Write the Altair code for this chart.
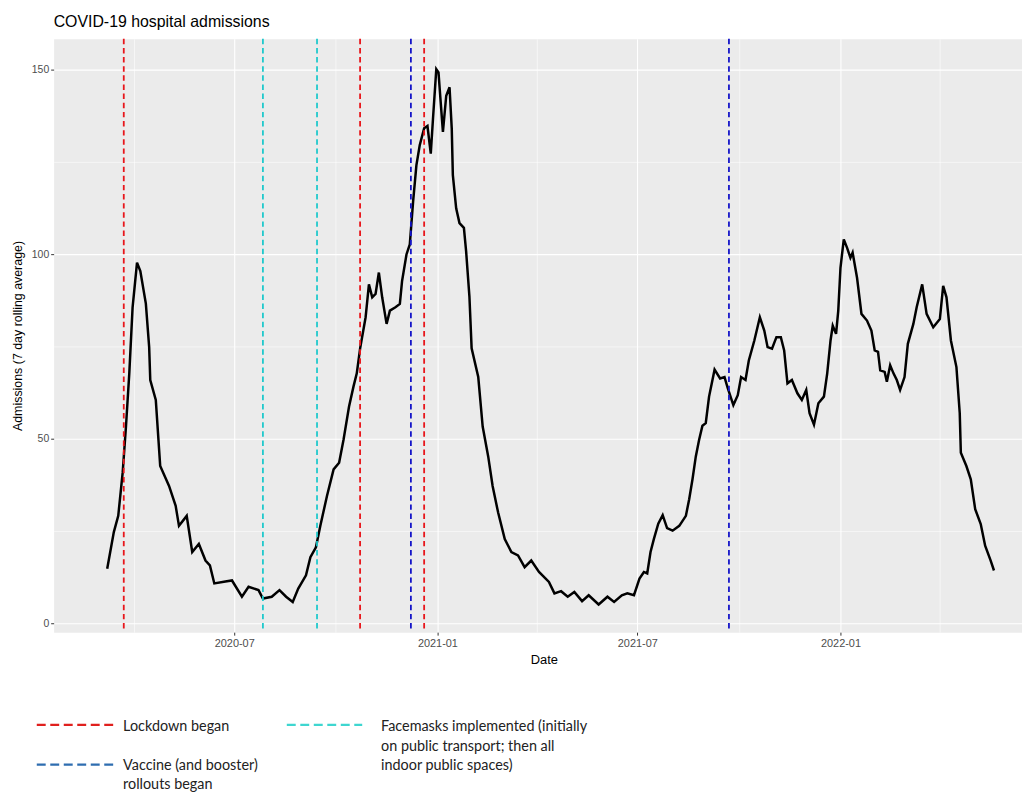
import altair as alt
import pandas as pd

# ---------------- data ----------------
dates = [
    "2020-03-08", "2020-03-14", "2020-03-18", "2020-03-22", "2020-03-25", "2020-03-28", "2020-03-31",
    "2020-04-04", "2020-04-07", "2020-04-12", "2020-04-15", "2020-04-16", "2020-04-21", "2020-04-25",
    "2020-05-03", "2020-05-09", "2020-05-12", "2020-05-19", "2020-05-24", "2020-05-30", "2020-06-05",
    "2020-06-09", "2020-06-13", "2020-06-23", "2020-06-29", "2020-07-08", "2020-07-14", "2020-07-23",
    "2020-07-27", "2020-08-04", "2020-08-11", "2020-08-17", "2020-08-23", "2020-08-28", "2020-09-04",
    "2020-09-08", "2020-09-13", "2020-09-17", "2020-09-23", "2020-09-29", "2020-10-04", "2020-10-08",
    "2020-10-13", "2020-10-17", "2020-10-20", "2020-10-23", "2020-10-28", "2020-10-31", "2020-11-03",
    "2020-11-06", "2020-11-09", "2020-11-12", "2020-11-16", "2020-11-19", "2020-11-24", "2020-11-28",
    "2020-11-30", "2020-12-04", "2020-12-07", "2020-12-10", "2020-12-13", "2020-12-16", "2020-12-20",
    "2020-12-23", "2020-12-26", "2020-12-28", "2020-12-31", "2021-01-02", "2021-01-04", "2021-01-06",
    "2021-01-09", "2021-01-12", "2021-01-14", "2021-01-15", "2021-01-18", "2021-01-21", "2021-01-25",
    "2021-01-27", "2021-01-30", "2021-02-01", "2021-02-07", "2021-02-11", "2021-02-16", "2021-02-20",
    "2021-02-25", "2021-03-03", "2021-03-09", "2021-03-15", "2021-03-21", "2021-03-27", "2021-04-03",
    "2021-04-12", "2021-04-17", "2021-04-23", "2021-04-29", "2021-05-05", "2021-05-12", "2021-05-18",
    "2021-05-27", "2021-06-04", "2021-06-10", "2021-06-17", "2021-06-22", "2021-06-28", "2021-07-03",
    "2021-07-07", "2021-07-10", "2021-07-13", "2021-07-16", "2021-07-20", "2021-07-24", "2021-07-28",
    "2021-08-02", "2021-08-08", "2021-08-14", "2021-08-17", "2021-08-20", "2021-08-23", "2021-08-26",
    "2021-08-29", "2021-09-01", "2021-09-04", "2021-09-09", "2021-09-14", "2021-09-18", "2021-09-21",
    "2021-09-26", "2021-09-30", "2021-10-03", "2021-10-07", "2021-10-10", "2021-10-15", "2021-10-20",
    "2021-10-24", "2021-10-27", "2021-10-31", "2021-11-04", "2021-11-08", "2021-11-11", "2021-11-14",
    "2021-11-18", "2021-11-23", "2021-11-27", "2021-12-01", "2021-12-04", "2021-12-08", "2021-12-12",
    "2021-12-17", "2021-12-20", "2021-12-23", "2021-12-25", "2021-12-28", "2021-12-30", "2022-01-01",
    "2022-01-04", "2022-01-07", "2022-01-10", "2022-01-12", "2022-01-16", "2022-01-20", "2022-01-25",
    "2022-01-29", "2022-02-01", "2022-02-04", "2022-02-06", "2022-02-10", "2022-02-12", "2022-02-15",
    "2022-02-18", "2022-02-21", "2022-02-24", "2022-02-28", "2022-03-03", "2022-03-08", "2022-03-11",
    "2022-03-16", "2022-03-20", "2022-03-26", "2022-04-01", "2022-04-04", "2022-04-07", "2022-04-11",
    "2022-04-16", "2022-04-19", "2022-04-20", "2022-04-25", "2022-04-29", "2022-05-03", "2022-05-08",
    "2022-05-12", "2022-05-17", "2022-05-20",
]
admissions = [
    14.8, 24.7, 29.1, 40.8, 53.3, 67.7, 85.6,
    97.7, 95.4, 86.6, 74.8, 65.9, 60.5, 42.6,
    37.2, 31.8, 26.4, 29.1, 19.3, 21.5, 17.0,
    15.7, 10.8, 11.3, 11.6, 7.2, 9.9, 9.0,
    6.7, 7.2, 9.0, 7.2, 5.8, 9.4, 13.0,
    17.9, 20.6, 26.4, 34.5, 41.7, 43.5, 49.7,
    58.7, 64.1, 67.7, 74.4, 82.9, 91.8, 88.3,
    89.2, 95.0, 88.3, 81.1, 84.7, 85.6, 86.5,
    92.7, 99.9, 102.6, 114.2, 124.1, 129.5, 134.1,
    134.7, 127.2, 136.6, 150.1, 149.2, 141.1, 133.1,
    142.9, 145.2, 134.0, 121.4, 112.4, 108.4, 107.1,
    100.8, 88.5, 74.5, 66.7, 53.3, 45.2, 37.2,
    30.0, 22.8, 19.3, 18.4, 15.2, 17.0, 13.9,
    11.2, 8.1, 8.7, 7.2, 8.5, 6.0, 7.6,
    5.1, 7.2, 5.8, 7.6, 8.1, 7.6, 12.1,
    13.9, 13.5, 19.3, 22.8, 27.0, 29.3, 25.8,
    25.1, 26.4, 29.1, 33.6, 39.0, 45.2, 49.7,
    53.5, 54.2, 61.4, 68.7, 66.3, 66.7, 63.6,
    59.1, 61.8, 66.7, 65.9, 71.2, 76.6, 82.9,
    79.3, 74.8, 74.4, 77.5, 77.5, 73.9, 65.0,
    65.9, 62.3, 60.5, 63.2, 56.9, 53.8, 59.6,
    61.4, 67.7, 76.6, 80.6, 78.4, 84.7, 96.3,
    104.0, 101.7, 99.0, 100.4, 93.6, 83.8, 82.0,
    79.3, 73.9, 73.5, 68.5, 68.1, 65.4, 69.9,
    67.7, 65.9, 63.2, 66.7, 75.7, 81.1, 85.6,
    91.8, 83.8, 80.2, 82.4, 91.4, 88.3, 76.6,
    69.4, 56.9, 46.2, 42.6, 39.0, 30.9, 26.9,
    21.0, 17.0, 14.3,
]

lockdown_dates = ["2020-03-23", "2020-10-23", "2020-12-20"]
facemask_dates = ["2020-07-27", "2020-09-14"]
vaccine_dates = ["2020-12-08", "2021-09-22"]

event_kinds = ["lockdown", "facemask", "vaccine"]
event_colors = ["#E8161B", "#1FC9CC", "#1414C8"]

legend_labels = [
    "Lockdown began",
    "Vaccine (and booster)\nrollouts began",
    "Facemasks implemented (initially\non public transport; then all\nindoor public spaces)",
]
legend_colors = ["#E0201E", "#2E6DB0", "#3ED6D0"]

y_ticks = [0, 25, 50, 75, 100, 125, 150]

# ---------------- tables ----------------
df = pd.DataFrame({"date": pd.to_datetime(dates), "admissions": admissions})
events = pd.DataFrame({
    "date": pd.to_datetime(lockdown_dates + facemask_dates + vaccine_dates),
    "kind": ["lockdown"] * len(lockdown_dates) + ["facemask"] * len(facemask_dates)
            + ["vaccine"] * len(vaccine_dates),
})

W, H = 976, 598
FONT = "Liberation Sans"

x_scale = alt.Scale(domain=[alt.DateTime(year=2020, month=1, date=19, hours=12),
                            alt.DateTime(year=2022, month=6, date=14, hours=9)])
y_scale = alt.Scale(domain=[-2.4, 158.3], nice=False, zero=False)

x_vals = [alt.DateTime(year=y, month=m, date=1) for (y, m) in
          [(2020, 4), (2020, 7), (2020, 10), (2021, 1), (2021, 4), (2021, 7),
           (2021, 10), (2022, 1), (2022, 4)]]
major_x = "month(datum.value) % 6 == 0"
major_y = "datum.value % 50 == 0"

x_axis = alt.Axis(
    values=x_vals,
    labelExpr=f"{major_x} ? timeFormat(datum.value, '%Y-%m') : ''",
    gridColor="white",
    gridWidth={"condition": {"test": major_x, "value": 1.1}, "value": 0.55},
    tickColor={"condition": {"test": major_x, "value": "#333333"}, "value": "transparent"},
    tickSize=3, tickWidth=1, domain=False,
    labelColor="#4D4D4D", labelFontSize=11, labelFont=FONT, labelPadding=2,
    labelOverlap=False,
    title="Date", titleFont=FONT, titleFontSize=13, titleFontWeight="normal",
    titleColor="black", titleX=494, titleY=28, titleBaseline="middle", titleAlign="center",
)
y_axis = alt.Axis(
    values=y_ticks,
    labelExpr=f"{major_y} ? datum.label : ''",
    gridColor="white",
    gridWidth={"condition": {"test": major_y, "value": 1.1}, "value": 0.55},
    tickColor={"condition": {"test": major_y, "value": "#333333"}, "value": "transparent"},
    tickSize=3, tickWidth=1, domain=False,
    labelColor="#4D4D4D", labelFontSize=10.5, labelFont=FONT, labelPadding=2,
    title="Admissions (7 day rolling average)", titleFont=FONT, titleFontSize=12.5,
    titleFontWeight="normal", titleColor="black", titleX=-36, titleY=H / 2,
    titleBaseline="middle", titleAlign="center", titleAngle=270,
)

line = alt.Chart(df).mark_line(color="black", strokeWidth=2.5).encode(
    x=alt.X("date:T", scale=x_scale, axis=x_axis),
    y=alt.Y("admissions:Q", scale=y_scale, axis=y_axis),
)

rules = alt.Chart(events).mark_rule(strokeWidth=1.8, strokeDash=[5.5, 3.7]).encode(
    x=alt.X("date:T", scale=x_scale),
    color=alt.Color("kind:N", scale=alt.Scale(domain=event_kinds, range=event_colors), legend=None),
)

# ---------------- hand-made legend below the plot ----------------
one = alt.Data(values=[{"k": 0}])
legend_layout = [  # (dash x0, dash x1, dash y, text x, text baseline y)
    (-17, 60, 691.5, 70, 698),
    (-17, 60, 731.5, 70, 737),
    (235, 311, 691.5, 330, 698),
]
legend_layers = []
for label, col, (x0, x1, dy, tx, ty) in zip(legend_labels, legend_colors, legend_layout):
    legend_layers.append(
        alt.Chart(one).mark_rule(color=col, strokeWidth=2.2, strokeDash=[9, 4.6]).encode(
            x=alt.value(x0), x2=alt.value(x1), y=alt.value(dy), y2=alt.value(dy))
    )
    legend_layers.append(
        alt.Chart(one).mark_text(text=label, lineBreak="\n", lineHeight=19.5, align="left",
                                 baseline="alphabetic", font="Lato", fontSize=14.5,
                                 color="#222222").encode(x=alt.value(tx), y=alt.value(ty))
    )

chart = alt.layer(line, rules, *legend_layers).properties(
    width=W, height=H,
    title=alt.TitleParams("COVID-19 hospital admissions", anchor="start", frame="group",
                          font=FONT, fontSize=16, fontWeight="normal", color="black", offset=8),
    autosize=alt.AutoSizeParams(type="none"),
    padding={"left": 46, "top": 28, "right": 0, "bottom": 159},
).configure_view(fill="#EBEBEB", stroke="transparent")

chart.save("out.html", embed_options={"renderer": "svg", "actions": False})
